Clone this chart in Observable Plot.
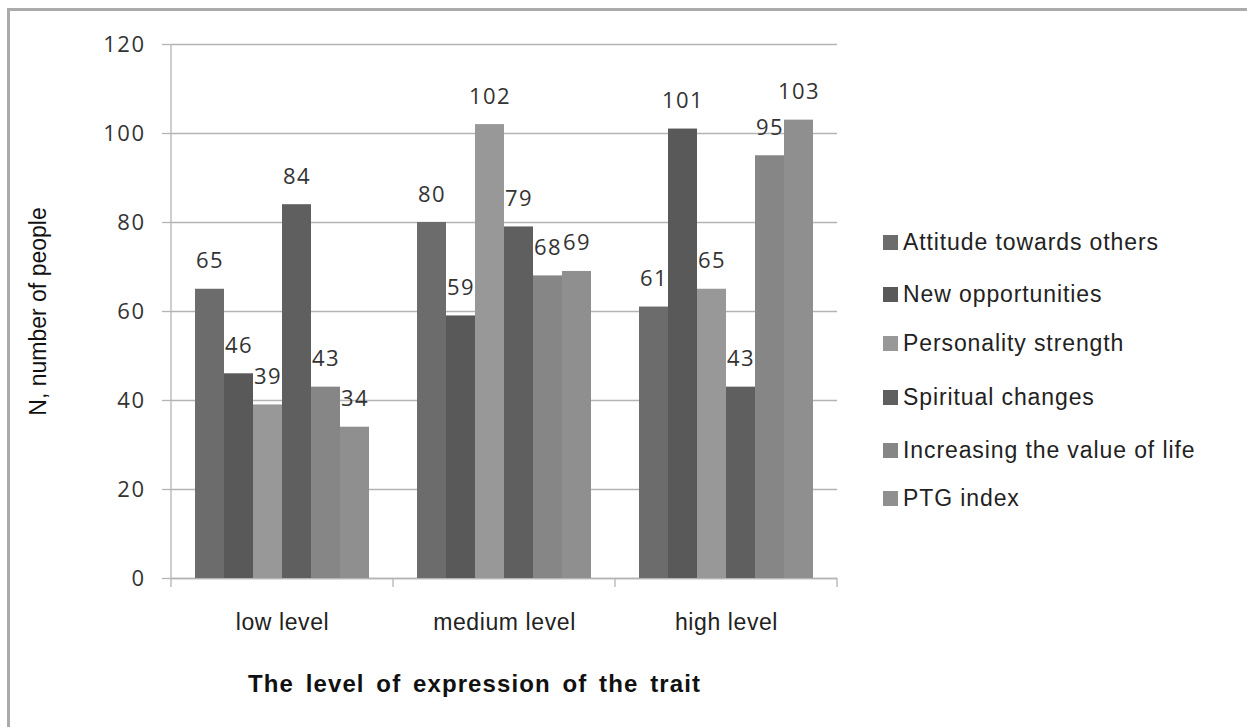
<!DOCTYPE html>
<html>
<head>
<meta charset="utf-8">
<script src="https://cdn.jsdelivr.net/npm/d3@7"></script>
<script src="https://cdn.jsdelivr.net/npm/@observablehq/plot@0.6"></script>
<style>
  html, body { margin: 0; padding: 0; background: #fff; }
  #frame { position: relative; width: 1247px; height: 727px; overflow: hidden; background: #fff; }
  #border { position: absolute; left: 7px; top: 8px; width: 1300px; height: 800px;
            border-left: 3px solid #ababab; border-top: 3px solid #ababab; }
  #chart { position: absolute; left: 0; top: 0; }
  #legend { position: absolute; left: 883px; top: 230px; font-family: "Liberation Sans", Arial, sans-serif;
            font-size: 23px; letter-spacing: 0.9px; color: #222; }
  .item { position: absolute; left: 0; white-space: nowrap; display: flex; align-items: center; height: 24px; }
  .swatch { width: 15px; height: 15px; margin-right: 5px; flex: none; }
</style>
</head>
<body>
<div id="frame">
  <div id="border"></div>
  <div id="chart"></div>
  <div id="legend"></div>
</div>
<script>
// Groups along the x axis
const groups = ["low level", "medium level", "high level"];
// Series (one bar per series in each group)
const series = [
  "Attitude towards others",
  "New opportunities",
  "Personality strength",
  "Spiritual changes",
  "Increasing the value of life",
  "PTG index"
];
// Number of people, one array per group, in series order
const lowValues = [65, 46, 39, 84, 43, 34];
const mediumValues = [80, 59, 102, 79, 68, 69];
const highValues = [61, 101, 65, 43, 95, 103];
// Gray fills for the series
const seriesColors = ["#6c6c6c", "#595959", "#989898", "#5f5f5f", "#868686", "#8f8f8f"];
const yTicks = [0, 20, 40, 60, 80, 100, 120];

const gridColor = "#b4b4b4";
const numFont = "'Open Sans', 'DejaVu Sans', sans-serif";
const sansFont = "'Liberation Sans', Arial, sans-serif";

const valuesByGroup = [lowValues, mediumValues, highValues];
const rows = groups.flatMap((g, gi) =>
  series.map((s, si) => ({group: g, series: s, value: valuesByGroup[gi][si]}))
);

const chart = Plot.plot({
  width: 1247,
  height: 727,
  marginLeft: 171,
  marginRight: 410,
  marginTop: 44,
  marginBottom: 149,
  style: {background: "transparent", overflow: "visible"},
  fx: {domain: groups, padding: 0},
  x: {domain: series, paddingInner: 0, paddingOuter: 0.74, axis: null},
  y: {domain: [0, 120], labelArrow: "none"},
  color: {domain: series, range: seriesColors},
  marks: [
    Plot.gridY(yTicks, {stroke: gridColor, strokeOpacity: 1, strokeWidth: 1.3}),
    Plot.axisY(yTicks, {
      tickSize: 9, tickPadding: 17, stroke: gridColor, strokeWidth: 1.3,
      fontSize: 22, fontFamily: numFont, fill: "#333",
      label: "N, number of people", labelAnchor: "center", labelOffset: 142, labelArrow: "none"
    }),
    Plot.axisFx({
      anchor: "bottom", tickSize: 0, tickPadding: 35,
      fontSize: 23, fontFamily: sansFont, fill: "#222",
      label: "The level of expression of the trait", labelAnchor: "center", labelOffset: 113
    }),
    Plot.ruleY([0], {stroke: gridColor, strokeWidth: 1.3}),
    Plot.barY(rows, {fx: "group", x: "series", y: "value", fill: "series"}),
    Plot.text(rows, {
      fx: "group", x: "series", y: "value", text: d => String(d.value), dy: -28,
      fontSize: 22, fontFamily: numFont, fill: "#333"
    })
  ]
});
document.getElementById("chart").appendChild(chart);

const svg = d3.select(chart);

// Group boundary ticks below the baseline and the vertical value axis line,
// positioned with the chart's own fx and y scales.
const fxScale = chart.scale("fx");
const yScale = chart.scale("y");
const bandwidth = typeof fxScale.bandwidth === "function" ? fxScale.bandwidth() : fxScale.bandwidth;
const edgeXs = [...groups.map(g => fxScale.apply(g)), fxScale.apply(groups[groups.length - 1]) + bandwidth];
const y0 = yScale.apply(0);
const yTop = yScale.apply(d3.max(yTicks));
const edges = svg.append("g").attr("stroke", gridColor).attr("stroke-width", 1.3);
edges.selectAll("line.edge").data(edgeXs).join("line")
  .attr("class", "edge")
  .attr("x1", d => d).attr("x2", d => d)
  .attr("y1", y0).attr("y2", y0 + 9);
edges.append("line")
  .attr("x1", edgeXs[0]).attr("x2", edgeXs[0])
  .attr("y1", yTop).attr("y2", y0);

// Type settings for tick labels, value labels and axis titles
svg.selectAll("[aria-label='text'] text, [aria-label='y-axis tick label'] text")
  .attr("letter-spacing", "1.5px");
svg.selectAll("[aria-label='fx-axis tick label'] text").attr("letter-spacing", "0.6px");
svg.selectAll("[aria-label='y-axis label'] text, [aria-label='y-axis label']")
  .attr("font-size", 23).attr("font-family", sansFont).attr("fill", "#111");
svg.selectAll("[aria-label='fx-axis label'] text, [aria-label='fx-axis label']")
  .attr("font-size", 24).attr("font-weight", "bold").attr("font-family", sansFont).attr("fill", "#111");
svg.selectAll("[aria-label='fx-axis label'] text")
  .attr("letter-spacing", "1.1px").attr("word-spacing", "4px").attr("dx", -30);

// Legend to the right of the plot
const legendTops = [0, 52, 101, 155, 208, 256];
const legend = d3.select("#legend");
series.forEach((s, i) => {
  const item = legend.append("div").attr("class", "item").style("top", legendTops[i] + "px");
  item.append("div").attr("class", "swatch").style("background", seriesColors[i]);
  item.append("span").text(s);
});
</script>
</body>
</html>
